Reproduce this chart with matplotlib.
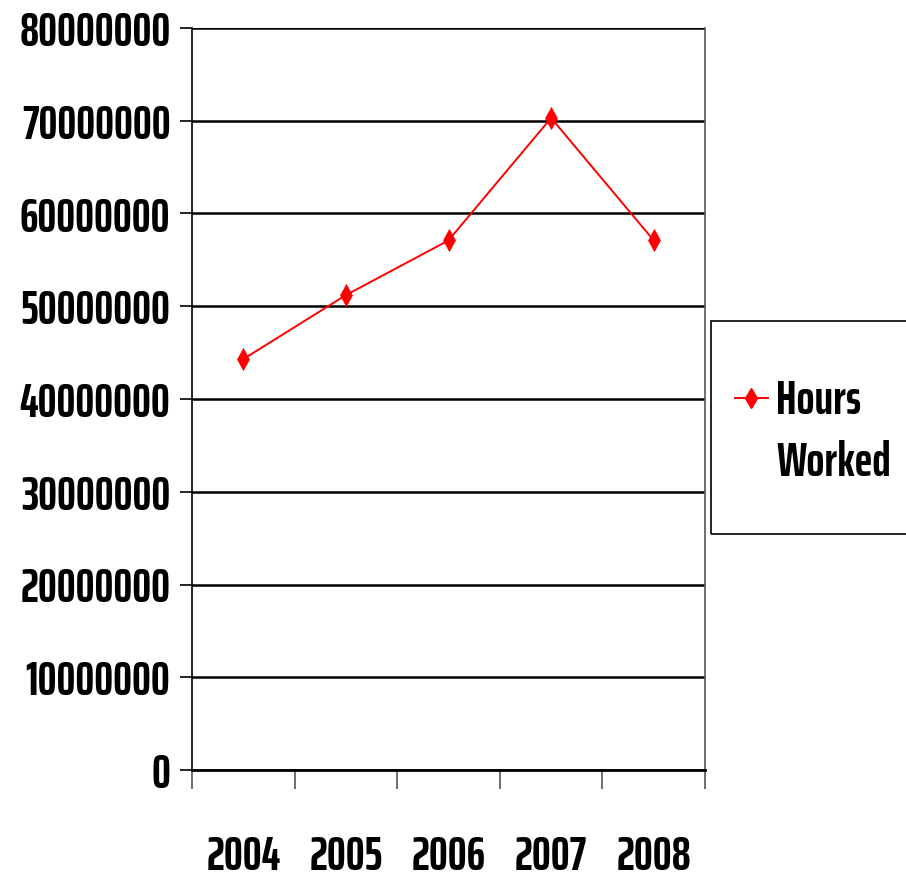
import matplotlib
matplotlib.use("Agg")
import matplotlib.pyplot as plt
from matplotlib.patches import Rectangle
from matplotlib.lines import Line2D

years = ["2004", "2005", "2006", "2007", "2008"]
hours_worked = [44300000, 51200000, 57100000, 70300000, 57100000]
y_ticks = [0, 10000000, 20000000, 30000000, 40000000, 50000000, 60000000, 70000000, 80000000]

plt.rcParams['font.family'] = ['Saira ExtraCondensed', 'DejaVu Sans']
FONT = dict(fontsize=34, fontweight='bold')

fig = plt.figure(figsize=(9.06, 8.8), dpi=100)
ax = fig.add_axes([192/906, 1-770/880, (705-192)/906, (770-28)/880])

x = list(range(len(years)))
ax.plot(x, hours_worked, color='#ff0000', lw=1.4, marker='d', markersize=11,
        markeredgecolor='#ff0000', markerfacecolor='#ff0000', markeredgewidth=0.5, zorder=3)

ax.set_xlim(-0.5, len(years) - 0.5)
ax.set_ylim(0, 80000000)
ax.set_yticks(y_ticks)
ax.set_yticklabels([str(v) for v in y_ticks], **FONT)
ax.yaxis.grid(True, color='black', lw=1.8)
ax.set_axisbelow(True)

ax.set_xticks(x)
ax.set_xticklabels(years, **FONT)
ax.tick_params(axis='x', which='major', length=0, pad=46)
ax.set_xticks([i - 0.5 for i in range(len(years) + 1)], minor=True)
ax.tick_params(axis='x', which='minor', length=14, width=1.2, color='#555555')
ax.tick_params(axis='y', which='major', length=8.5, width=1.2, pad=7)

ax.spines['top'].set_visible(False)
ax.spines['left'].set_linewidth(1.2)
ax.spines['right'].set_linewidth(1.2)
ax.spines['right'].set_color('#555555')
ax.spines['bottom'].set_linewidth(2.0)

# legend
fig.patches.append(Rectangle((711/906, 1-534/880), 0.3, (534-321)/880,
                             transform=fig.transFigure, fill=False, edgecolor='black', lw=1.2))
fig.lines.append(Line2D([735/906, 768/906], [1-398/880, 1-398/880], transform=fig.transFigure,
                        color='#ff0000', lw=1.4))
fig.lines.append(Line2D([751/906], [1-398/880], transform=fig.transFigure,
                        color='#ff0000', marker='d', markersize=10, lw=0))
fig.text(776/906, 1-400/880, "Hours", va='center', ha='left', **FONT)
fig.text(776/906, 1-462/880, "Worked", va='center', ha='left', **FONT)

fig.savefig("out.png", dpi=100)
